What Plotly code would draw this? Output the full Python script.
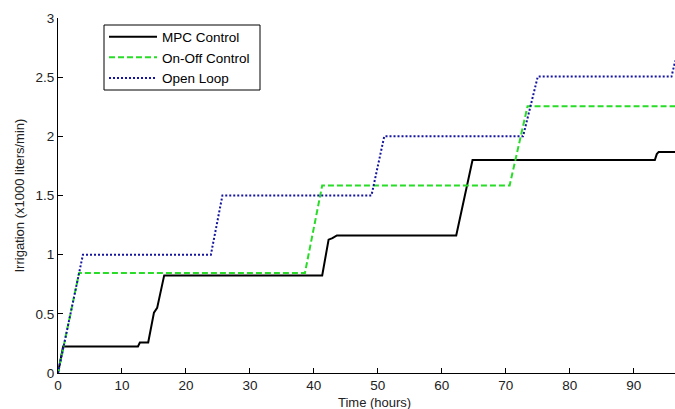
import plotly.graph_objects as go

# Data
mpc_t = [0, 0.8, 12.5, 12.8, 14.1, 15.0, 15.5, 16.6, 41.3, 42.3, 42.9, 43.6, 62.25, 64.8, 93.3, 93.6, 93.9, 96.5]
mpc_v = [0, 0.225, 0.225, 0.258, 0.258, 0.51, 0.55, 0.825, 0.825, 1.127, 1.14, 1.163, 1.163, 1.80, 1.80, 1.85, 1.868, 1.868]

onoff_t = [0, 3.3, 38.6, 41.3, 70.6, 73.4, 96.5]
onoff_v = [0, 0.845, 0.845, 1.585, 1.585, 2.255, 2.255]

open_t = [0, 3.9, 23.9, 25.7, 49.0, 51.0, 72.7, 75.0, 95.9, 96.5]
open_v = [0, 1.0, 1.0, 1.5, 1.5, 2.0, 2.0, 2.505, 2.505, 2.64]

x_ticks = [0, 10, 20, 30, 40, 50, 60, 70, 80, 90]
y_ticks = [0, 0.5, 1, 1.5, 2, 2.5, 3]
y_tick_text = ["0", "0.5", "1", "1.5", "2", "2.5", "3"]

FAM = "Liberation Sans, Arial, sans-serif"

fig = go.Figure()
fig.add_trace(go.Scatter(x=mpc_t, y=mpc_v, mode="lines", name="MPC Control",
                         line=dict(color="black", width=2)))
fig.add_trace(go.Scatter(x=onoff_t, y=onoff_v, mode="lines", name="On-Off Control",
                         line=dict(color="rgb(40,220,40)", width=2, dash="6px,3px")))
fig.add_trace(go.Scatter(x=open_t, y=open_v, mode="lines", name="Open Loop",
                         line=dict(color="rgb(20,20,160)", width=2, dash="2px,2px")))

W, H = 675, 409
L, R, T, B = 58, 0, 18, 36
pw, ph = W - L - R, H - T - B


def px(x):
    return (x - L) / pw


def py(y):
    return (H - B - y) / ph


fig.update_layout(
    width=W, height=H,
    margin=dict(l=L, r=R, t=T, b=B, autoexpand=False),
    plot_bgcolor="white", paper_bgcolor="white",
    font=dict(family=FAM, size=13.5, color="#222"),
    showlegend=True,
    legend=dict(
        x=px(104), y=py(21.5), xanchor="left", yanchor="top",
        bgcolor="rgba(0,0,0,0)", borderwidth=0,
        font=dict(family=FAM, size=13.5, color="black"),
        tracegroupgap=0, itemwidth=48,
    ),
    shapes=[
        dict(type="rect", xref="paper", yref="paper",
             x0=px(104), x1=px(260), y0=py(90), y1=py(25),
             line=dict(color="black", width=1), fillcolor="white", layer="below"),
    ],
    xaxis=dict(
        range=[0, 96.45], tickmode="array", tickvals=x_ticks, automargin=False,
        ticks="inside", ticklen=5, tickcolor="black", tickwidth=1,
        showline=True, linecolor="black", linewidth=1, showgrid=False, zeroline=False,
        tickfont=dict(size=13.5),
    ),
    yaxis=dict(
        range=[0, 3], tickmode="array", tickvals=y_ticks, ticktext=y_tick_text, automargin=False,
        ticks="inside", ticklen=5, tickcolor="black", tickwidth=1,
        showline=True, linecolor="black", linewidth=1, showgrid=False, zeroline=False,
        tickfont=dict(size=13.5),
    ),
    annotations=[
        dict(text="Time (hours)", xref="paper", yref="paper",
             x=px(374.5), y=py(403), xanchor="center", yanchor="middle",
             showarrow=False, font=dict(family=FAM, size=13, color="#222")),
        dict(text="Irrigation (x1000 liters/min)", xref="paper", yref="paper",
             x=px(19), y=py(195.5), xanchor="center", yanchor="middle",
             textangle=-90, showarrow=False, font=dict(family=FAM, size=13, color="#222")),
    ],
)

fig.write_html("out.html", config={"displayModeBar": False},
               post_script="document.body.style.margin='0';document.body.style.overflow='hidden';")
